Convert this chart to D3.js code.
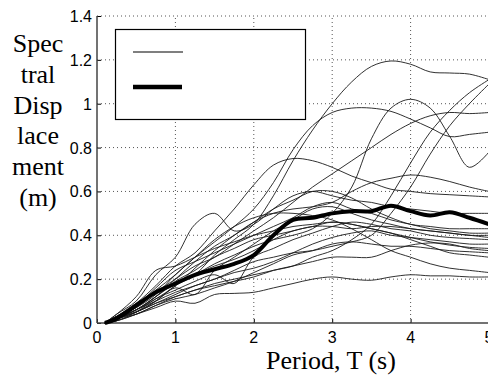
<!DOCTYPE html>
<html>
<head>
<meta charset="utf-8">
<script src="https://cdn.jsdelivr.net/npm/d3@7"></script>
<style>
  html, body { margin: 0; padding: 0; background: #fff; }
  svg { display: block; }
</style>
</head>
<body>
<svg id="chart" width="488" height="376"></svg>
<script>
const periods = [0.1, 0.25, 0.5, 0.75, 1, 1.25, 1.5, 1.75, 2, 2.25, 2.5, 2.75, 3, 3.25, 3.5, 3.75, 4, 4.25, 4.5, 4.75, 5]

// individual record spectra (m)
const recA = [0, .02, .05, .10, .17, .22, .31, .38, .45, .58, .74, .88, 1.0, 1.10, 1.17, 1.195, 1.18, 1.145, 1.14, 1.135, 1.11]
const recB = [0, .03, .08, .15, .22, .30, .37, .44, .52, .64, .79, .90, .96, .98, .98, .965, .93, .89, .85, .86, .87]
const recC = [0, .02, .06, .12, .18, .22, .27, .31, .35, .38, .40, .43, .50, .62, .84, .98, 1.02, .98, .85, .71, .78]
const recD = [0, .01, .04, .08, .12, .15, .18, .20, .22, .24, .26, .30, .33, .38, .45, .58, .73, .87, .97, 1.05, 1.11]
const recE = [0, .02, .05, .09, .13, .17, .20, .24, .28, .30, .32, .33, .35, .37, .40, .50, .62, .77, .90, 1.00, 1.09]
const recF = [0, .03, .07, .14, .20, .26, .30, .36, .42, .48, .55, .62, .68, .74, .80, .86, .91, .945, .96, .955, .96]
const recG = [0, .03, .09, .17, .26, .32, .42, .52, .63, .72, .75, .74, .71, .67, .64, .61, .60, .59, .585, .58, .575]
const recH = [0, .02, .06, .11, .17, .25, .33, .40, .46, .50, .52, .53, .55, .60, .64, .66, .675, .665, .645, .62, .60]
const recL1 = [0, .01, .04, .07, .10, .09, .13, .135, .14, .16, .18, .20, .21, .20, .195, .21, .22, .215, .215, .21, .21]
const recL2 = [0, .02, .05, .09, .12, .15, .17, .19, .21, .24, .26, .28, .30, .30, .30, .33, .355, .365, .36, .34, .33]
const recL3 = [0, .03, .07, .13, .22, .30, .38, .44, .48, .50, .50, .49, .47, .43, .38, .33, .30, .27, .25, .24, .23]
const recM1 = [0, .04, .10, .22, .30, .45, .50, .42, .45, .52, .58, .60, .58, .56, .55, .53, .52, .51, .50, .50, .50]
const recM2 = [0, .02, .06, .12, .20, .28, .35, .40, .46, .52, .56, .60, .60, .57, .52, .48, .45, .44, .43, .43, .43]
const recM3 = [0, .03, .08, .16, .24, .28, .32, .36, .40, .44, .48, .53, .55, .52, .50, .47, .45, .43, .42, .41, .41]
const recM4 = [0, .02, .05, .10, .16, .13, .24, .30, .36, .42, .47, .52, .53, .50, .47, .45, .43, .42, .41, .40, .40]
const recM5 = [0, .01, .05, .11, .15, .19, .22, .18, .30, .34, .38, .41, .44, .46, .45, .43, .42, .40, .39, .385, .38]
const recM6 = [0, .02, .06, .10, .14, .17, .20, .23, .25, .28, .32, .36, .39, .41, .42, .40, .39, .38, .37, .36, .36]
const recM7 = [0, .03, .09, .14, .18, .22, .26, .29, .33, .38, .42, .44, .46, .45, .43, .41, .39, .37, .355, .345, .34]
const recM8 = [0, .02, .04, .08, .11, .13, .16, .19, .23, .27, .31, .33, .36, .37, .36, .35, .35, .34, .33, .325, .32]
const recM9 = [0, .04, .12, .24, .26, .30, .34, .37, .40, .42, .44, .45, .46, .45, .43, .41, .38, .35, .32, .31, .30]
const recM10 = [0, .02, .06, .12, .19, .24, .30, .34, .38, .40, .42, .44, .44, .43, .44, .44, .43, .42, .41, .40, .39]

const records = [recA, recB, recC, recD, recE, recF, recG, recH, recL1, recL2, recL3,
  recM1, recM2, recM3, recM4, recM5, recM6, recM7, recM8, recM9, recM10]

// mean spectrum (thick line)
const meanValues = [0, .02, .08, .14, .18, .22, .245, .27, .31, .40, .47, .48, .50, .51, .51, .535, .51, .49, .505, .48, .45]

const xTicks = [0, 1, 2, 3, 4, 5]
const yTicks = [0, 0.2, 0.4, 0.6, 0.8, 1, 1.2, 1.4]
const yLabelLines = ['Spec', 'tral', 'Disp', 'lace', 'ment', '(m)']
const xLabel = 'Period, T (s)'

const sans = "'Liberation Sans', Arial, Helvetica, sans-serif"
const serif = "'Liberation Serif', 'Times New Roman', serif"

const svg = d3.select('#chart')
const width = 488
const height = 376

const x = d3.scaleLinear().domain([0, 5]).range([97, 489])
const y = d3.scaleLinear().domain([0, 1.4]).range([323, 16])

svg.append('rect').attr('width', width).attr('height', height).attr('fill', '#fff')

// dotted grid
svg.append('g')
  .selectAll('line')
  .data(yTicks.filter(d => d > 0))
  .join('line')
  .attr('x1', x(0)).attr('x2', x(5))
  .attr('y1', d => y(d)).attr('y2', d => y(d))
  .attr('stroke', '#555').attr('stroke-width', 1)
  .attr('stroke-dasharray', '1,3')

svg.append('g')
  .selectAll('line')
  .data(xTicks.filter(d => d > 0))
  .join('line')
  .attr('x1', d => x(d)).attr('x2', d => x(d))
  .attr('y1', y(0)).attr('y2', y(1.4))
  .attr('stroke', '#555').attr('stroke-width', 1)
  .attr('stroke-dasharray', '1,3')

// axes (MATLAB style, ticks inside)
const xAxis = svg.append('g')
  .attr('transform', `translate(0, ${y(0)})`)
  .call(d3.axisTop(x).tickValues(xTicks).tickSize(4).tickFormat(''))
xAxis.select('.domain').remove()

const yAxis = svg.append('g')
  .attr('transform', `translate(${x(0)}, 0)`)
  .call(d3.axisRight(y).tickValues(yTicks).tickSize(4).tickFormat(''))
yAxis.select('.domain').remove()

svg.append('line')
  .attr('x1', x(0)).attr('x2', width)
  .attr('y1', y(0)).attr('y2', y(0))
  .attr('stroke', '#444').attr('stroke-width', 1.5)
svg.append('line')
  .attr('x1', x(0)).attr('x2', x(0))
  .attr('y1', y(0)).attr('y2', y(1.4))
  .attr('stroke', '#444').attr('stroke-width', 1.5)

// tick labels
svg.append('g')
  .selectAll('text')
  .data(xTicks)
  .join('text')
  .attr('x', d => x(d))
  .attr('y', 343)
  .attr('text-anchor', 'middle')
  .attr('font-family', sans)
  .attr('font-size', 16)
  .text(d => d)

svg.append('g')
  .selectAll('text')
  .data(yTicks)
  .join('text')
  .attr('x', 92)
  .attr('y', d => y(d) + 6)
  .attr('text-anchor', 'end')
  .attr('font-family', sans)
  .attr('font-size', 16)
  .text(d => d3.format('~g')(d))

// axis titles
svg.append('text')
  .attr('x', 331)
  .attr('y', 369)
  .attr('text-anchor', 'middle')
  .attr('font-family', serif)
  .attr('font-size', 26)
  .text(xLabel)

svg.append('g')
  .selectAll('text')
  .data(yLabelLines)
  .join('text')
  .attr('x', 38)
  .attr('y', (d, i) => 52 + i * 30.8)
  .attr('text-anchor', 'middle')
  .attr('font-family', serif)
  .attr('font-size', 26)
  .text(d => d)

// spectra
const line = d3.line()
  .x((d, i) => x(periods[i]))
  .y(d => y(d))
  .curve(d3.curveCatmullRom.alpha(0.5))

svg.append('g')
  .selectAll('path')
  .data(records)
  .join('path')
  .attr('d', line)
  .attr('fill', 'none')
  .attr('stroke', '#1a1a1a')
  .attr('stroke-width', 0.9)

svg.append('path')
  .datum(meanValues)
  .attr('d', line)
  .attr('fill', 'none')
  .attr('stroke', '#000')
  .attr('stroke-width', 4)
  .attr('stroke-linejoin', 'round')

// legend (no labels in the original)
const legend = svg.append('g')
legend.append('rect')
  .attr('x', 115.5).attr('y', 29.5)
  .attr('width', 190).attr('height', 90)
  .attr('fill', '#fff').attr('stroke', '#000').attr('stroke-width', 1.2)
legend.append('line')
  .attr('x1', 133).attr('x2', 183).attr('y1', 52).attr('y2', 52)
  .attr('stroke', '#000').attr('stroke-width', 1.2)
legend.append('line')
  .attr('x1', 133).attr('x2', 182).attr('y1', 87).attr('y2', 87)
  .attr('stroke', '#000').attr('stroke-width', 4.5)
</script>
</body>
</html>
